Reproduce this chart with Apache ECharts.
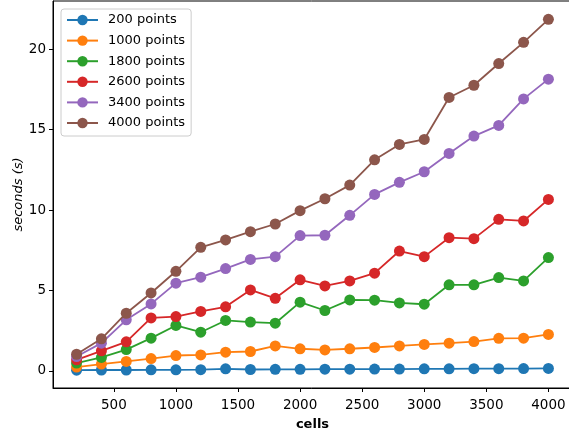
<!DOCTYPE html>
<html>
<head>
<meta charset="utf-8">
<script src="https://cdn.jsdelivr.net/npm/echarts@6/dist/echarts.min.js"></script>
<style>
  html, body { margin: 0; padding: 0; background: #fff; }
  #chart { width: 569px; height: 432px; }
</style>
</head>
<body>
<div id="chart"></div>
<script>
// Grid sizes (number of cells) on the x axis
const cells = [200, 400, 600, 800, 1000, 1200, 1400, 1600, 1800, 2000,
               2200, 2400, 2600, 2800, 3000, 3200, 3400, 3600, 3800, 4000];

// Run time in seconds for each point count
const pts200  = [0.04, 0.05, 0.05, 0.06, 0.06, 0.07, 0.12, 0.08, 0.09, 0.09,
                 0.10, 0.10, 0.11, 0.11, 0.12, 0.12, 0.13, 0.13, 0.14, 0.15];
const pts1000 = [0.23, 0.42, 0.58, 0.76, 0.95, 0.99, 1.16, 1.20, 1.55, 1.37,
                 1.30, 1.37, 1.45, 1.55, 1.64, 1.72, 1.82, 2.02, 2.03, 2.26];
const pts1800 = [0.48, 0.83, 1.32, 2.03, 2.82, 2.40, 3.13, 3.03, 2.96, 4.27,
                 3.75, 4.41, 4.39, 4.22, 4.14, 5.35, 5.35, 5.80, 5.59, 7.04];
const pts2600 = [0.68, 1.24, 1.80, 3.29, 3.37, 3.69, 3.98, 5.03, 4.51, 5.66,
                 5.28, 5.59, 6.07, 7.45, 7.10, 8.28, 8.22, 9.42, 9.32, 10.66];
const pts3400 = [0.89, 1.72, 3.17, 4.16, 5.45, 5.82, 6.36, 6.93, 7.10, 8.41,
                 8.43, 9.67, 10.97, 11.72, 12.38, 13.52, 14.60, 15.26, 16.91, 18.14];
const pts4000 = [1.03, 1.99, 3.58, 4.84, 6.19, 7.68, 8.14, 8.65, 9.13, 9.96,
                 10.70, 11.55, 13.12, 14.08, 14.39, 17.00, 17.76, 19.11, 20.43, 21.86];

const seriesNames = ['200 points', '1000 points', '1800 points',
                     '2600 points', '3400 points', '4000 points'];
const seriesValues = [pts200, pts1000, pts1800, pts2600, pts3400, pts4000];
const colors = ['#1f77b4', '#ff7f0e', '#2ca02c', '#d62728', '#9467bd', '#8c564b'];

// Tick labels
const xTicks = [500, 1000, 1500, 2000, 2500, 3000, 3500, 4000];
const yTicks = [0, 5, 10, 15, 20];

const font = 'DejaVu Sans';

const chart = echarts.init(document.getElementById('chart'), null, { renderer: 'canvas' });

chart.setOption({
  animation: false,
  backgroundColor: '#ffffff',
  color: colors,
  textStyle: { fontFamily: font, color: '#000' },
  grid: {
    left: 53, top: 1, width: 519, height: 387,
    outerBoundsMode: 'none',
    containLabel: false,
    show: true, borderColor: '#000', borderWidth: 1, backgroundColor: 'transparent'
  },
  legend: {
    orient: 'vertical',
    left: 61, top: 9,
    itemWidth: 31, itemHeight: 13,
    itemGap: 6.6,
    padding: [4, 6, 6, 5],
    backgroundColor: 'rgba(255,255,255,0.8)',
    borderColor: '#cccccc', borderWidth: 1, borderRadius: 3,
    textStyle: { fontFamily: font, fontSize: 13, color: '#000', lineHeight: 14, padding: [0, 0, 0, 5] },
    data: seriesNames
  },
  xAxis: {
    type: 'value',
    min: 10, max: 4190,
    name: 'cells',
    nameLocation: 'middle',
    nameGap: 30,
    nameMoveOverlap: false,
    nameTextStyle: { fontFamily: font, fontSize: 13, fontWeight: 'bold', color: '#000' },
    axisLine: { show: true, onZero: false, lineStyle: { color: '#000', width: 1 } },
    axisTick: { show: true, length: 4, lineStyle: { color: '#000' }, customValues: xTicks },
    axisLabel: {
      fontFamily: font, fontSize: 13.5, color: '#000', margin: 10,
      customValues: xTicks, formatter: v => String(v)
    },
    splitLine: { show: false }
  },
  yAxis: {
    type: 'value',
    min: -1.07, max: 23.0,
    name: 'seconds (s)',
    nameLocation: 'middle',
    nameGap: 28,
    nameMoveOverlap: false,
    nameTextStyle: { fontFamily: font, fontSize: 13, fontStyle: 'italic', color: '#000' },
    axisLine: { show: true, onZero: false, lineStyle: { color: '#000', width: 1 } },
    axisTick: { show: true, length: 4, lineStyle: { color: '#000' }, customValues: yTicks },
    axisLabel: {
      fontFamily: font, fontSize: 13.5, color: '#000', margin: 7,
      customValues: yTicks, formatter: v => String(v)
    },
    splitLine: { show: false }
  },
  series: seriesNames.map((name, i) => ({
    name: name,
    type: 'line',
    data: cells.map((c, j) => [c, seriesValues[i][j]]),
    symbol: 'circle',
    symbolSize: 11,
    showSymbol: true,
    lineStyle: { width: 1.8, color: colors[i] },
    itemStyle: { color: colors[i] },
    emphasis: { disabled: true },
    z: 2 + i
  }))
});
</script>
</body>
</html>
